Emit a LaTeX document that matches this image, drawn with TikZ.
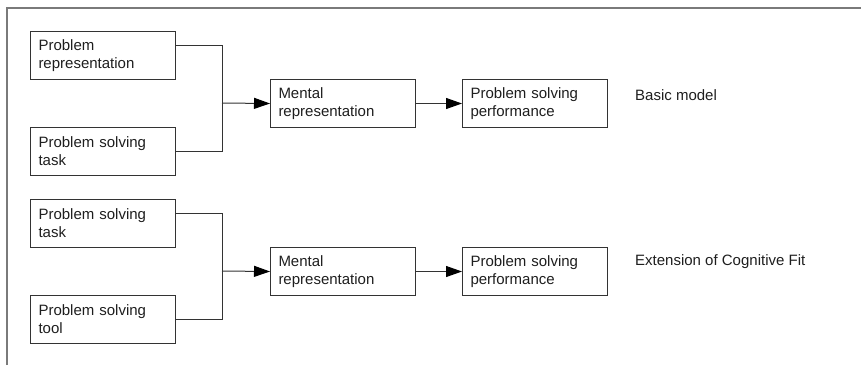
\documentclass[tikz,border=0pt]{standalone}
\usepackage{fontspec}
\setmainfont{Liberation Sans}
\usetikzlibrary{arrows.meta,calc}
\definecolor{inkgray}{HTML}{1E1E1E}
\definecolor{linegray}{HTML}{333333}
\definecolor{framegray}{HTML}{7A7A7A}
\begin{document}
\begin{tikzpicture}[x=1pt,y=-1pt,
  every node/.style={font=\fontsize{15}{18}\selectfont, text=inkgray},
  box/.style={draw=linegray, line width=1pt, rectangle, anchor=north west,
    text width=129pt, inner xsep=8pt, inner ysep=0pt,
    minimum height=48pt, align=left},
  link/.style={draw=linegray, line width=1pt},
  flow/.style={link, -{Triangle[length=16pt,width=11pt,color=black]}},
  caption/.style={anchor=west, inner sep=0pt}]
\useasboundingbox (0,0) rectangle (861,365);
% outer frame (top and left edges)
\draw[framegray, line width=1.3pt] (7,365) -- (7,8) -- (861,8);

% basic model
\node[box] (pr)  at (30,31)  {Problem\\representation};
\node[box] (pt)  at (30,127) {Problem solving\\task};
\node[box] (mr)  at (270,79) {Mental\\representation};
\node[box] (pp)  at (462,79) {Problem solving\\performance};
\node[caption] (lb) at (635,95) {Basic model};
\coordinate (j1) at (222,103);
\draw[link] ($(pr.north east)!0.3!(pr.south east)$) -| (j1);
\draw[link] (pt.east) -| (j1);
\draw[flow] (j1) -- (mr.west);
\draw[flow] (mr.east) -- (pp.west);

% extension of cognitive fit
\node[box] (st)  at (30,199)  {Problem solving\\task};
\node[box] (sl)  at (30,295)  {Problem solving\\tool};
\node[box] (mr2) at (270,247) {Mental\\representation};
\node[box] (pp2) at (462,247) {Problem solving\\performance};
\node[caption] (le) at (635,262) {Extension of Cognitive Fit};
\coordinate (j2) at (222,271);
\draw[link] ($(st.north east)!0.3!(st.south east)$) -| (j2);
\draw[link] (sl.east) -| (j2);
\draw[flow] (j2) -- (mr2.west);
\draw[flow] (mr2.east) -- (pp2.west);
\end{tikzpicture}
\end{document}
